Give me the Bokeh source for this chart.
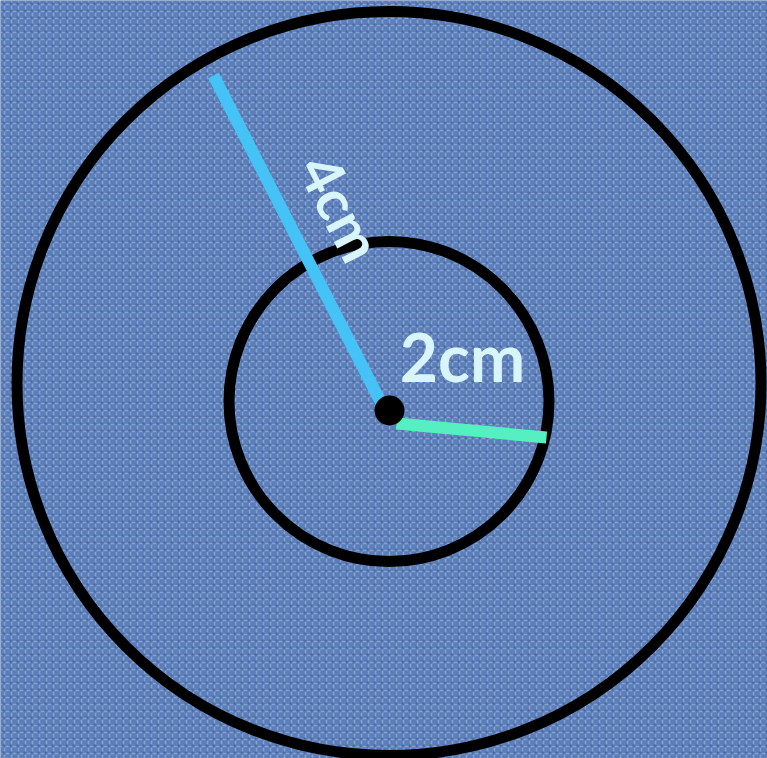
from bokeh.plotting import figure
from bokeh.models import Range1d
from bokeh.embed import file_html
from bokeh.resources import INLINE
from bokeh.core.properties import value
import math

# ---- data (in reference pixel space) ----
circle_names = ["outer", "inner"]
circle_cx = [388.5, 388.5]
circle_cy = [383, 401]
circle_r = [372, 160]

radius_labels = ["4cm", "2cm"]
center_pt = (389, 410)
blue_end = (213, 75)
blue_start = (383, 407)
green_start = (396, 423)
green_end = (546, 437)

W, H = 767, 758

def X(x):
    return x

def Y(y):
    return H - y

p = figure(width=W, height=H, output_backend="svg", toolbar_location=None,
           x_range=Range1d(0, W), y_range=Range1d(0, H), min_border=0)
p.axis.visible = False
p.grid.visible = False
p.outline_line_color = None
p.background_fill_color = "#5b7db8"
p.border_fill_color = "#5b7db8"

# fabric-like texture
p.rect(x=[W / 2], y=[H / 2], width=W, height=H, fill_color="#5b7db8",
       line_color=None, hatch_pattern="cross", hatch_color="#a9c5f0",
       hatch_alpha=0.5, hatch_scale=7, hatch_weight=1.6)
p.rect(x=[W / 2], y=[H / 2], width=W, height=H, fill_alpha=0,
       line_color=None, hatch_pattern="dot", hatch_color="#26437c",
       hatch_alpha=0.5, hatch_scale=7, hatch_weight=2.5)

# circles
p.circle(x=[X(v) for v in circle_cx], y=[Y(v) for v in circle_cy],
         radius=circle_r, fill_color=None, line_color="black", line_width=11)

# radius lines
p.line([X(blue_end[0]), X(blue_start[0])], [Y(blue_end[1]), Y(blue_start[1])],
       line_color="#45c2f6", line_width=12)
p.line([X(green_start[0]), X(green_end[0])], [Y(green_start[1]), Y(green_end[1])],
       line_color="#55efc2", line_width=12)

# center dot
p.circle(x=[X(center_pt[0])], y=[Y(center_pt[1])], radius=15,
         fill_color="black", line_color=None)

# labels
ang = -math.atan2(blue_start[1] - blue_end[1], blue_start[0] - blue_end[0])
p.text(x=[X(341)], y=[Y(207)], text=[radius_labels[0]], angle=ang,
       text_font=value("Lato"), text_font_style="bold", text_font_size="58px",
       text_color="#d8f5fb", text_align="center", text_baseline="middle")
p.text(x=[X(462)], y=[Y(356)], text=[radius_labels[1]],
       text_font=value("Lato"), text_font_style="bold", text_font_size="66px",
       text_color="#d8f5fb", text_align="center", text_baseline="middle")

open("out.html", "w").write(file_html(p, INLINE))
